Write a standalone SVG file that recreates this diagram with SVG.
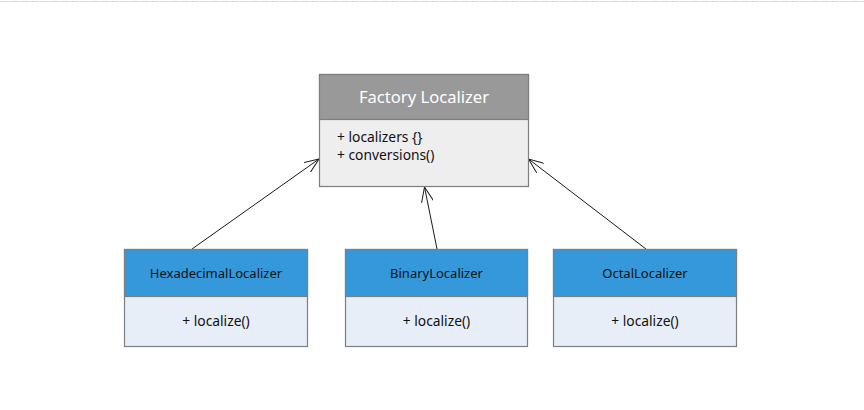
<svg xmlns="http://www.w3.org/2000/svg" width="864" height="410" viewBox="0 0 864 410">
<defs>
<style>
.box{stroke:#7f7f7f;stroke-width:1.2}
.hg{fill:#999999}
.hb{fill:#3598da}
.bg{fill:#eeeeee}
.bb{fill:#e7eef8}
text{font-family:"Noto Sans","Liberation Sans",sans-serif;font-size:13px;fill:#111}
.m{font-size:13.8px}
.title{fill:#ffffff;font-size:16.6px}
.c{text-anchor:middle}
.conn{stroke:#1a1a1a;stroke-width:1;fill:none}
</style>
<marker id="open" viewBox="0 0 16 12" refX="15" refY="6" markerWidth="16" markerHeight="12" markerUnits="userSpaceOnUse" orient="auto">
<path d="M0,0 L15,6 L0,12" fill="none" stroke="#1a1a1a" stroke-width="1"/>
</marker>
</defs>
<rect width="864" height="410" fill="#ffffff"/>
<line x1="0" y1="1.5" x2="864" y2="1.5" stroke="#d9d9d9" stroke-width="1" stroke-dasharray="9 1"/>
<g id="connectors">
<line class="conn" x1="192" y1="249" x2="319" y2="159" marker-end="url(#open)"/>
<line class="conn" x1="437" y1="249" x2="424.5" y2="187" marker-end="url(#open)"/>
<line class="conn" x1="646" y1="249" x2="528.5" y2="159" marker-end="url(#open)"/>
</g>
<g id="factory">
<rect class="box bg" x="319.5" y="74.5" width="209" height="112"/>
<rect class="box hg" x="319.5" y="74.5" width="209" height="45"/>
<text class="title c" x="424" y="103">Factory Localizer</text>
<text class="m" x="337" y="142">+ localizers {}</text>
<text class="m" x="337" y="160">+ conversions()</text>
</g>
<g id="hexadecimal">
<rect class="box bb" x="124.5" y="249.5" width="183" height="97"/>
<rect class="box hb" x="124.5" y="249.5" width="183" height="47"/>
<text class="c" x="216" y="278">HexadecimalLocalizer</text>
<text class="m c" x="216" y="326">+ localize()</text>
</g>
<g id="binary">
<rect class="box bb" x="345.5" y="249.5" width="182" height="97"/>
<rect class="box hb" x="345.5" y="249.5" width="182" height="47"/>
<text class="c" x="436.5" y="278">BinaryLocalizer</text>
<text class="m c" x="436.5" y="326">+ localize()</text>
</g>
<g id="octal">
<rect class="box bb" x="553.5" y="249.5" width="183" height="97"/>
<rect class="box hb" x="553.5" y="249.5" width="183" height="47"/>
<text class="c" x="645" y="278">OctalLocalizer</text>
<text class="m c" x="645" y="326">+ localize()</text>
</g>
</svg>
